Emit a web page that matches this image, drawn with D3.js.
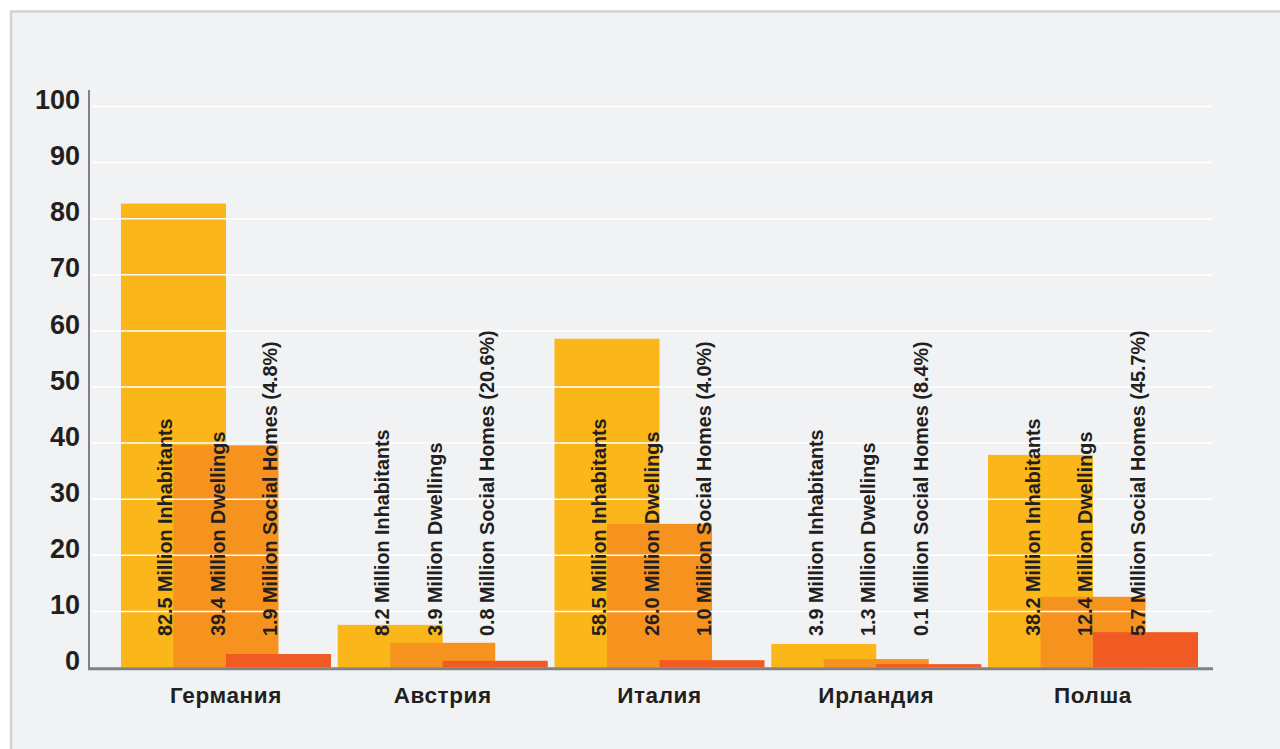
<!DOCTYPE html>
<html>
<head>
<meta charset="utf-8">
<script src="https://cdn.jsdelivr.net/npm/d3@7"></script>
<style>
  html, body { margin: 0; padding: 0; background: #ffffff; }
  svg { display: block; }
</style>
</head>
<body>
<svg id="chart" width="1280" height="749"></svg>
<script>
const categories = ["Германия", "Австрия", "Италия", "Ирландия", "Полша"];
const seriesNames = ["Inhabitants", "Dwellings", "Social Homes"];
const inhabitants = [82.7, 7.6, 58.6, 4.2, 37.9];
const dwellings = [39.6, 4.4, 25.6, 1.5, 12.6];
const socialHomes = [2.4, 1.2, 1.3, 0.6, 6.3];
const inhabitantLabels = ["82.5 Million Inhabitants", "8.2 Million Inhabitants", "58.5 Million Inhabitants", "3.9 Million Inhabitants", "38.2 Million Inhabitants"];
const dwellingLabels = ["39.4 Million Dwellings", "3.9 Million Dwellings", "26.0 Million Dwellings", "1.3 Million Dwellings", "12.4 Million Dwellings"];
const socialLabels = ["1.9 Million Social Homes (4.8%)", "0.8 Million Social Homes (20.6%)", "1.0 Million Social Homes (4.0%)", "0.1 Million Social Homes (8.4%)", "5.7 Million Social Homes (45.7%)"];
const yTicks = [0, 10, 20, 30, 40, 50, 60, 70, 80, 90, 100];
const colors = ["#FBB619", "#F6921E", "#F15A22"];

const series = [inhabitants, dwellings, socialHomes];
const labels = [inhabitantLabels, dwellingLabels, socialLabels];

const svg = d3.select("#chart");
const textColor = "#231f20";

// panel
svg.append("rect").attr("x", 0).attr("y", 0).attr("width", 1280).attr("height", 749).attr("fill", "#ffffff");
svg.append("rect").attr("x", 11).attr("y", 11.5).attr("width", 1290).attr("height", 760)
  .attr("fill", "#f1f2f4").attr("stroke", "#d1d2d4").attr("stroke-width", 2.5);

const plotLeft = 89, plotRight = 1213;
const y = d3.scaleLinear().domain([0, 100]).range([667.5, 106.5]);

const pad = 6.75 / 216.75;
const x0 = d3.scaleBand().domain(categories).range([117.6, 1201.4]).paddingInner(pad).paddingOuter(pad / 2);
const x1 = d3.scaleLinear().domain([0, 4]).range([0, x0.bandwidth()]);

// bars
const g = svg.append("g");
series.forEach((vals, si) => {
  g.selectAll(null).data(vals).enter().append("rect")
    .attr("x", (d, i) => x0(categories[i]) + x1(si))
    .attr("width", x1(si + 2) - x1(si))
    .attr("y", d => y(d))
    .attr("height", d => y(0) - y(d))
    .attr("fill", colors[si]);
});

// gridlines (drawn over bars)
svg.append("g").selectAll("line").data(yTicks.filter(t => t > 0)).enter().append("line")
  .attr("x1", plotLeft + 2).attr("x2", plotRight)
  .attr("y1", d => y(d)).attr("y2", d => y(d))
  .attr("stroke", "#ffffff").attr("stroke-width", 1.5);

// bar labels
series.forEach((vals, si) => {
  svg.append("g").selectAll("text").data(labels[si]).enter().append("text")
    .attr("transform", (d, i) => `translate(${x0(categories[i]) + x1(si + 1) - 1},636) rotate(-90)`)
    .attr("text-anchor", "start")
    .attr("font-family", "'Liberation Sans', Arial, sans-serif")
    .attr("font-weight", "bold")
    .attr("font-size", 19.8)
    .attr("fill", textColor)
    .text(d => d);
});

// y axis
const yAxis = d3.axisLeft(y).tickValues(yTicks).tickSize(0).tickPadding(9).tickFormat(d3.format("d"));
const ya = svg.append("g").attr("transform", `translate(${plotLeft},0)`).call(yAxis);
ya.select(".domain").remove();
ya.selectAll("text")
  .attr("font-family", "'Liberation Sans', Arial, sans-serif")
  .attr("font-weight", "bold")
  .attr("font-size", 27)
  .attr("fill", textColor)
  .attr("dy", "0.08em");

svg.append("line").attr("x1", plotLeft).attr("x2", plotLeft).attr("y1", 90).attr("y2", 670)
  .attr("stroke", "#808285").attr("stroke-width", 2);
svg.append("line").attr("x1", plotLeft - 1).attr("x2", plotRight).attr("y1", 668.7).attr("y2", 668.7)
  .attr("stroke", "#808285").attr("stroke-width", 3);

// x axis labels
const xAxis = d3.axisBottom(x0).tickSize(0).tickPadding(0);
const xa = svg.append("g").attr("transform", "translate(0,703)").call(xAxis);
xa.select(".domain").remove();
xa.selectAll("text")
  .attr("font-family", "'Liberation Sans', Arial, sans-serif")
  .attr("font-weight", "bold")
  .attr("font-size", 22.5)
  .attr("letter-spacing", "0.6px")
  .attr("fill", textColor)
  .attr("dy", 0);
</script>
</body>
</html>
